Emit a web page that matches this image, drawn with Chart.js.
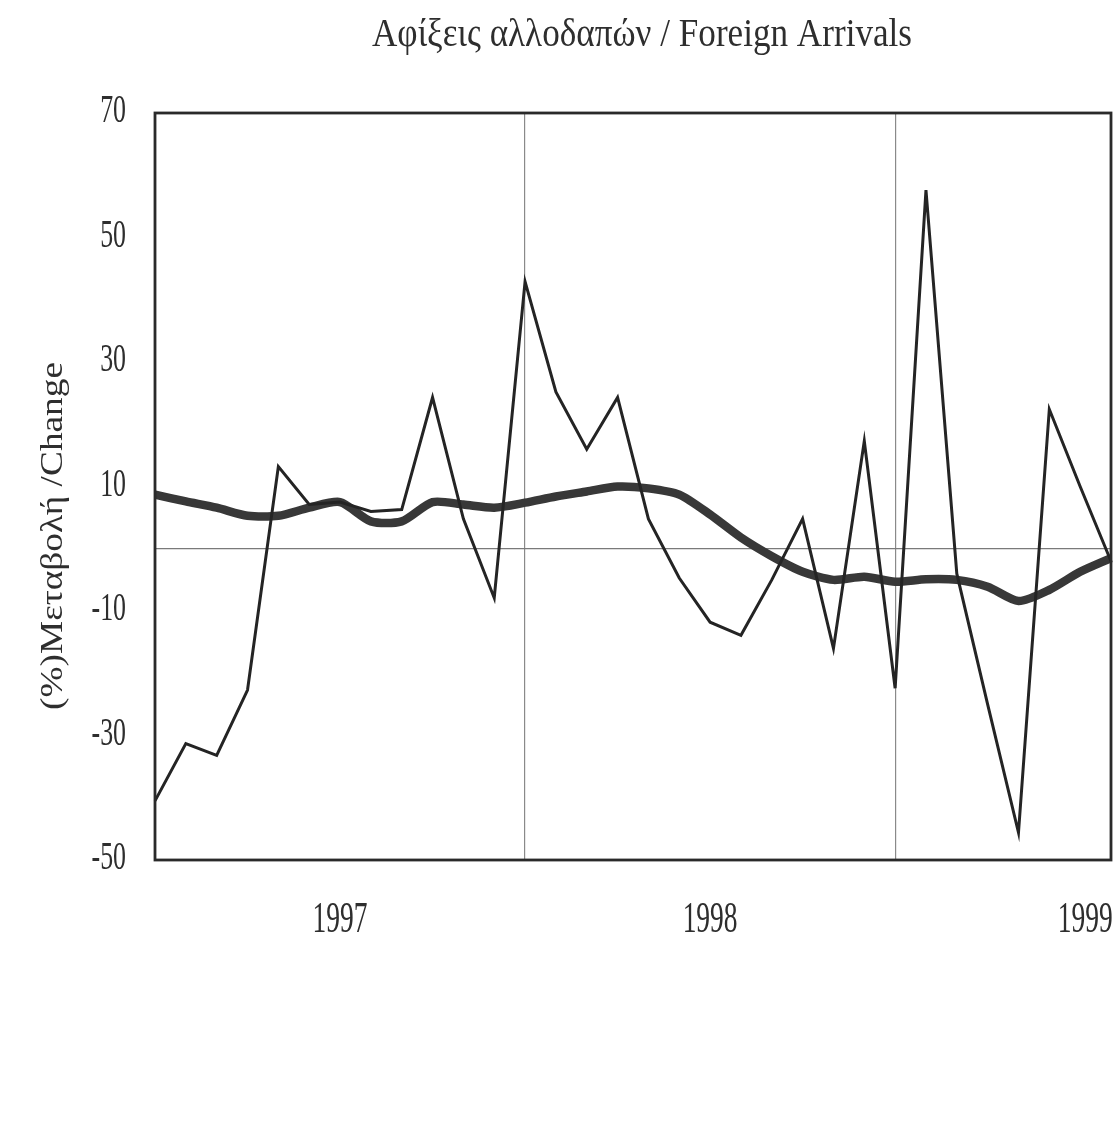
<!DOCTYPE html>
<html>
<head>
<meta charset="utf-8">
<script src="https://cdn.jsdelivr.net/npm/chart.js@4/dist/chart.umd.min.js"></script>
<style>
  html, body { margin: 0; padding: 0; background: #fff; }
  #chart { display: block; }
</style>
</head>
<body>
<canvas id="chart" width="1115" height="1128"></canvas>
<script>
// ----------- Data -----------
const months = [
  '1997-01','1997-02','1997-03','1997-04','1997-05','1997-06','1997-07','1997-08','1997-09','1997-10','1997-11','1997-12',
  '1998-01','1998-02','1998-03','1998-04','1998-05','1998-06','1998-07','1998-08','1998-09','1998-10','1998-11','1998-12',
  '1999-01','1999-02','1999-03','1999-04','1999-05','1999-06','1999-07','1999-08'
];
// monthly % change
const monthlyChange = [
  -40.5, -31.3, -33.2, -22.7, 13.2, 7.1, 7.5, 6.0, 6.3, 24.3, 4.8, -7.9,
  42.9, 25.2, 16.0, 24.3, 4.8, -4.7, -11.8, -13.9, -5.0, 4.8, -16.0, 17.3,
  -22.4, 57.6, -4.0, -25.0, -45.6, 22.4, 10.0, -2.0
];
// smoothed trend
const trendChange = [
  8.7, 7.6, 6.6, 5.3, 5.3, 6.6, 7.5, 4.4, 4.4, 7.5, 7.1, 6.6,
  7.4, 8.4, 9.2, 10.0, 9.7, 8.7, 5.5, 1.8, -1.2, -3.7, -5.0, -4.5,
  -5.3, -4.9, -5.0, -6.1, -8.4, -6.6, -3.7, -1.5
];
const yearLabels = ['1997', '1998', '1999'];
const yTicks = [-50, -30, -10, 10, 30, 50, 70];

const titleText = 'Αφίξεις αλλοδαπών / Foreign Arrivals';
const yTitleText = '(%)Μεταβολή /Change';

const FONT = '"Liberation Serif", "DejaVu Serif", serif';
const INK = '#2e2e2e';

// draw text squeezed horizontally (the print uses a condensed serif)
const drawSqueezed = (ctx, text, x, y, sx) => {
  ctx.save();
  ctx.translate(x, y);
  ctx.scale(sx, 1);
  ctx.fillText(text, 0, 0);
  ctx.restore();
};

// ----------- Frame, labels, titles -----------
const printPlugin = {
  id: 'printLook',
  afterDraw(chart) {
    const { ctx, chartArea: a, scales: { x, y } } = chart;
    ctx.save();

    ctx.strokeStyle = '#2a2a2a';
    ctx.lineWidth = 2.8;
    ctx.strokeRect(a.left, a.top, a.right - a.left, a.bottom - a.top);

    ctx.fillStyle = INK;
    ctx.textBaseline = 'alphabetic';

    // y tick labels
    ctx.font = '41px ' + FONT;
    ctx.textAlign = 'right';
    y.ticks.forEach(t => {
      if (!yTicks.includes(t.value)) return;
      drawSqueezed(ctx, String(t.value), a.left - 29, y.getPixelForValue(t.value) + 9, 0.63);
    });

    // x year labels, centred on July of each year
    ctx.font = '45px ' + FONT;
    ctx.textAlign = 'center';
    yearLabels.forEach(yr => {
      const idx = months.indexOf(yr + '-07');
      if (idx < 0) return;
      let cx = x.getPixelForValue(idx);
      if (yr === '1999') cx += 5;
      drawSqueezed(ctx, yr, cx, a.bottom + 72, 0.61);
    });

    // chart title
    ctx.font = '40px ' + FONT;
    ctx.textAlign = 'left';
    const tw = ctx.measureText(titleText).width;
    drawSqueezed(ctx, titleText, 372, 46, 540 / tw);

    // y axis title
    ctx.font = '31px ' + FONT;
    ctx.textAlign = 'center';
    const yw = ctx.measureText(yTitleText).width;
    ctx.translate(62, 536);
    ctx.rotate(-Math.PI / 2);
    ctx.scale(348 / yw, 1);
    ctx.fillText(yTitleText, 0, 0);

    ctx.restore();
  }
};

new Chart(document.getElementById('chart').getContext('2d'), {
  type: 'line',
  data: {
    labels: months,
    datasets: [{
      label: 'Monthly change',
      data: monthlyChange,
      borderColor: '#242424',
      borderWidth: 3,
      pointRadius: 0,
      tension: 0,
      fill: false,
      order: 0
    }, {
      label: 'Trend',
      data: trendChange,
      borderColor: '#383838',
      borderWidth: 8.5,
      pointRadius: 0,
      tension: 0.25,
      fill: false,
      order: 1
    }]
  },
  options: {
    responsive: false,
    animation: false,
    layout: { padding: { left: 155, right: 4, top: 113, bottom: 268 } },
    plugins: {
      legend: { display: false },
      tooltip: { enabled: false },
      title: { display: false }
    },
    scales: {
      x: {
        offset: false,
        border: { display: false },
        ticks: { display: false, autoSkip: false },
        grid: {
          drawTicks: false,
          lineWidth: 1.2,
          color: ctx => {
            const lbl = months[ctx.index];
            return (ctx.index > 0 && lbl && lbl.endsWith('-01')) ? '#8a8a8a' : 'rgba(0,0,0,0)';
          }
        }
      },
      y: {
        min: -50,
        max: 70,
        border: { display: false },
        afterBuildTicks: scale => {
          scale.ticks = yTicks.concat([0]).sort((p, q) => p - q).map(v => ({ value: v }));
        },
        ticks: { display: false },
        grid: {
          drawTicks: false,
          lineWidth: 1.2,
          color: ctx => (ctx.tick && ctx.tick.value === 0) ? '#7a7a7a' : 'rgba(0,0,0,0)'
        }
      }
    }
  },
  plugins: [printPlugin]
});
</script>
</body>
</html>
